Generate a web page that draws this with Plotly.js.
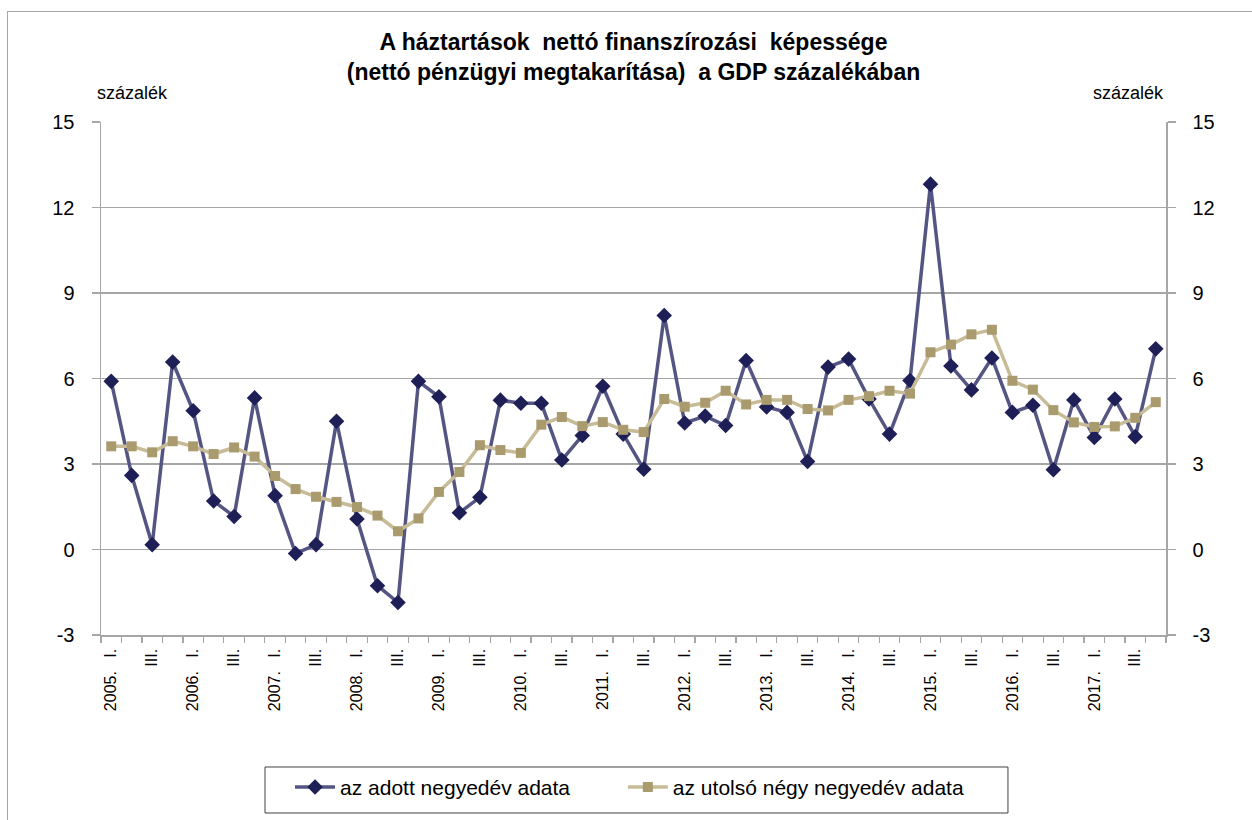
<!DOCTYPE html>
<html>
<head>
<meta charset="utf-8">
<script src="https://cdn.plot.ly/plotly-3.0.1.min.js"></script>
<style>
  html, body { margin: 0; padding: 0; background: #fff; }
  #wrap { position: relative; width: 1252px; height: 820px; overflow: hidden; }
  #frame { position: absolute; left: 7px; top: 11px; width: 1260px; height: 900px; border: 1.5px solid #a6a6a6; box-sizing: border-box; pointer-events: none; }
  #chart { position: absolute; left: 0; top: 0; width: 1252px; height: 820px; }
</style>
</head>
<body>
<div id="wrap">
  <div id="chart"></div>
  <div id="frame"></div>
</div>
<script>
// Quarters 2005 Q1 .. 2017 Q4
const years = [2005, 2006, 2007, 2008, 2009, 2010, 2011, 2012, 2013, 2014, 2015, 2016, 2017];
const quarterNames = ["I.", "II.", "III.", "IV."];

// az adott negyedév adata (quarterly value, % of GDP)
const quarterly = [
  5.90, 2.60, 0.17, 6.58,
  4.87, 1.70, 1.16, 5.32,
  1.89, -0.14, 0.17, 4.50,
  1.07, -1.27, -1.86, 5.90,
  5.36, 1.29, 1.83, 5.24,
  5.13, 5.13, 3.14, 4.00,
  5.73, 4.05, 2.82, 8.21,
  4.44, 4.68, 4.35, 6.63,
  5.00, 4.81, 3.09, 6.40,
  6.68, 5.28, 4.05, 5.93,
  12.82, 6.44, 5.60, 6.72,
  4.81, 5.06, 2.80, 5.25,
  3.93, 5.28, 3.96, 7.04
];

// az utolsó négy negyedév adata (rolling four-quarter value)
const rolling = [
  3.62, 3.62, 3.41, 3.80,
  3.62, 3.35, 3.58, 3.26,
  2.58, 2.12, 1.85, 1.67,
  1.49, 1.19, 0.64, 1.09,
  2.02, 2.72, 3.66, 3.49,
  3.39, 4.38, 4.65, 4.33,
  4.47, 4.20, 4.12, 5.28,
  5.01, 5.15, 5.57, 5.09,
  5.25, 5.25, 4.93, 4.88,
  5.25, 5.38, 5.57, 5.47,
  6.92, 7.19, 7.55, 7.71,
  5.92, 5.61, 4.89, 4.46,
  4.30, 4.32, 4.62, 5.17
];

const yTicks = [-3, 0, 3, 6, 9, 12, 15];

// Build category positions and tick labels (every second quarter)
const xIdx = [];
const tickVals = [];
const tickText = [];
let k = 0;
years.forEach(function (yr) {
  quarterNames.forEach(function (q, qi) {
    xIdx.push(k);
    if (qi === 0) { tickVals.push(k); tickText.push(yr + ".\u00a0\u00a0\u00a0I."); }
    if (qi === 2) { tickVals.push(k); tickText.push("III."); }
    k++;
  });
});

const FONT = "Liberation Sans, Arial, sans-serif";
const GRID = "#a6a6a6";

const traces = [
  {
    x: xIdx, y: quarterly, type: "scatter", mode: "lines+markers",
    name: "az adott negyedév adata", legend: "legend",
    line: { color: "#555583", width: 3.5 },
    marker: { symbol: "diamond", size: 12, color: "#1f1f57", line: { width: 0 } },
    xaxis: "x", yaxis: "y"
  },
  {
    x: xIdx, y: rolling, type: "scatter", mode: "lines+markers",
    name: "az utolsó négy negyedév adata", legend: "legend2",
    line: { color: "#c7bc97", width: 3.5 },
    marker: { symbol: "square", size: 10, color: "#a99b6d", line: { width: 0 } },
    xaxis: "x", yaxis: "y"
  },
  {
    x: [xIdx[0]], y: [quarterly[0]], type: "scatter", mode: "markers",
    marker: { opacity: 0 }, showlegend: false, hoverinfo: "skip",
    xaxis: "x", yaxis: "y2"
  }
];

const yCommon = {
  range: [-3, 15], tickvals: yTicks, ticktext: yTicks.map(String),
  ticks: "outside", ticklen: 8, tickcolor: GRID, tickwidth: 1.5,
  showline: true, linecolor: GRID, linewidth: 1.5,
  tickfont: { family: FONT, size: 20, color: "#000" },
  ticklabelstandoff: 13, zeroline: false, fixedrange: true
};

const legendCommon = {
  orientation: "h", xanchor: "left", y: -0.257, yanchor: "top",
  borderwidth: 0, bgcolor: "rgba(0,0,0,0)",
  font: { family: FONT, size: 21, color: "#000" },
  itemwidth: 40
};

const layout = {
  width: 1252, height: 820,
  margin: { l: 101, r: 86, t: 122, b: 185 },
  paper_bgcolor: "rgba(0,0,0,0)", plot_bgcolor: "#fff",
  font: { family: FONT, color: "#000" },
  showlegend: true,
  title: {
    text: "<b>A háztartások  nettó finanszírozási  képessége</b><br><b>(nettó pénzügyi megtakarítása)  a GDP százalékában</b>",
    font: { family: FONT, size: 23, color: "#000" },
    x: 0.5, xref: "paper", xanchor: "center",
    y: 1 - 50 / 820, yref: "container", yanchor: "top"
  },
  xaxis: {
    type: "linear", range: [-0.5, 51.5],
    tickvals: tickVals, ticktext: tickText, tickangle: -90,
    ticks: "", showgrid: false, zeroline: false,
    showline: true, linecolor: GRID, linewidth: 1.5,
    tickfont: { family: FONT, size: 16, color: "#000" },
    ticklabelstandoff: 6,
    minor: { ticks: "outside", tick0: -0.5, dtick: 1, ticklen: 6, tickcolor: GRID, tickwidth: 1.2, showgrid: false },
    fixedrange: true
  },
  yaxis: Object.assign({}, yCommon, {
    side: "left", showgrid: true, gridcolor: GRID, gridwidth: 1.5
  }),
  yaxis2: Object.assign({}, yCommon, {
    side: "right", overlaying: "y", showgrid: false
  }),
  legend: Object.assign({}, legendCommon, { x: 0.1775 }),
  legend2: Object.assign({}, legendCommon, { x: 0.490 }),
  shapes: [
    { type: "rect", xref: "paper", yref: "paper", x0: 0.154, x1: 0.8516, y0: -0.347, y1: -0.2573,
      line: { color: "#404040", width: 1 }, fillcolor: "#fff", layer: "above" }
  ],
  annotations: [
    { text: "százalék", xref: "paper", yref: "paper", x: -0.006, y: 1.033, xanchor: "left", yanchor: "bottom", showarrow: false, font: { family: FONT, size: 18, color: "#000" } },
    { text: "százalék", xref: "paper", yref: "paper", x: 1.0, y: 1.033, xanchor: "right", yanchor: "bottom", showarrow: false, font: { family: FONT, size: 18, color: "#000" } }
  ]
};

Plotly.newPlot("chart", traces, layout, { displayModeBar: false, staticPlot: true });
</script>
</body>
</html>
